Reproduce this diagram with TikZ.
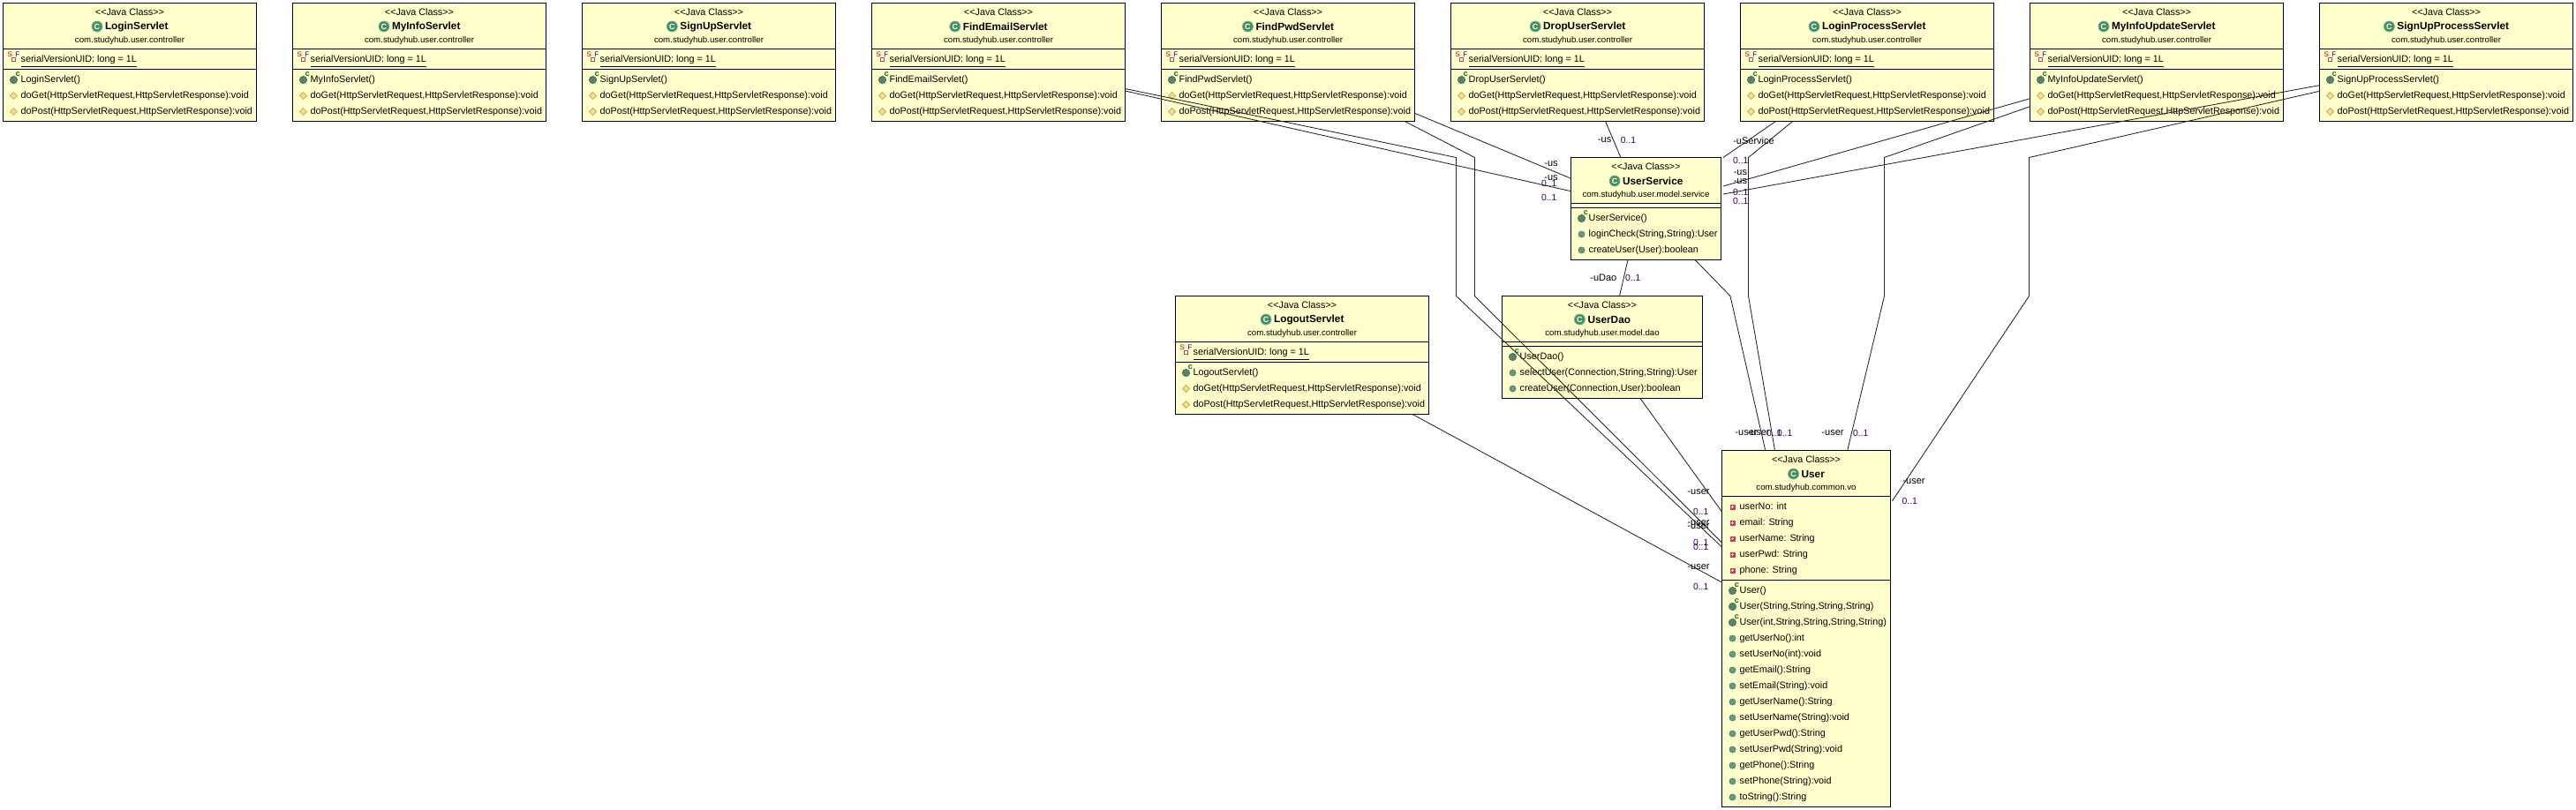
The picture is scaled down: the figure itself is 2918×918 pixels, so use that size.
\documentclass[tikz,border=0pt]{standalone}
\usepackage{fontspec}
\setmainfont{Liberation Sans}
\usetikzlibrary{positioning}

\definecolor{boxfill}{HTML}{FFFFCC}
\definecolor{classgreen}{HTML}{3F8F60}
\definecolor{pubgreen}{HTML}{5F9F7F}
\definecolor{protfill}{HTML}{F8DC90}
\definecolor{protline}{HTML}{C8A050}
\definecolor{privred}{HTML}{D83858}
\definecolor{multcol}{HTML}{3C0050}

\tikzset{
	classbox/.style={draw=black,line width=1pt,fill=boxfill,anchor=north west,inner sep=0pt,outer sep=0pt},
	sepline/.style={black,line width=1pt},
	assoc/.style={black!85,line width=0.85pt},
	stereotxt/.style={font=\fontsize{10.8}{13}\selectfont,inner sep=0pt},
	nametxt/.style={font=\fontsize{11.8}{14}\selectfont\bfseries,inner sep=0pt},
	pkgtxt/.style={font=\fontsize{9.7}{12}\selectfont,inner sep=0pt},
	rowtxt/.style={font=\fontsize{10.8}{13}\selectfont,inner sep=0pt,anchor=west,text height=8.5pt,text depth=3pt},
	classicon/.style={circle,fill=classgreen,draw=classgreen!70,line width=0.8pt,minimum size=12pt,inner sep=0pt,text=white,font=\fontsize{9}{9}\selectfont\bfseries},
	rolelab/.style={font=\fontsize{11}{12}\selectfont,inner sep=0pt,text=black},
	multlab/.style={font=\fontsize{10.4}{12}\selectfont,inner sep=0pt,text=multcol},
	pubmark/.pic={\fill[pubgreen,draw=pubgreen!75!black,line width=0.5pt] (0,0) circle (3.6pt);},
	ctormark/.pic={\fill[pubgreen!85!black,draw=pubgreen!60!black,line width=0.5pt] (0,0) circle (4.2pt);
		\node[font=\fontsize{9}{9}\selectfont\bfseries,text=green!45!black,inner sep=0pt] (cmark) at (4.8,-6.2) {c};},
	protmark/.pic={\fill[protfill,draw=protline,line width=0.7pt] (-4,0) -- (0,-4) -- (4,0) -- (0,4) -- cycle;},
	privmark/.pic={\fill[privred] (-3,-3) rectangle (3,3);
		\draw[white,line width=0.9pt] (-1.6,0) -- (1.6,0) (0,-1.6) -- (0,1.6);},
	staticmark/.pic={\fill[privred] (-2.6,-2.6) rectangle (2.6,2.6); \fill[white] (-1.1,-1.1) rectangle (1.1,1.1);
		\node[font=\fontsize{8}{8}\selectfont,text=red!70!black,inner sep=0pt] (smark) at (-4.3,-6) {S};
		\node[font=\fontsize{8}{8}\selectfont,text=blue!70!black,inner sep=0pt] (fmark) at (4.4,-6) {F};},
}

\begin{document}
\begin{tikzpicture}[x=1pt,y=-1pt]
	\useasboundingbox (0,0) rectangle (2918,918);
	\fill[white] (0,0) rectangle (2918,918);

	% servlet classes
	\foreach \nm/\lx/\ty in {LoginServlet/3.5/3.5,MyInfoServlet/331.5/3.5,SignUpServlet/659.5/3.5,FindEmailServlet/987.5/3.5,FindPwdServlet/1315.5/3.5,DropUserServlet/1643.5/3.5,LoginProcessServlet/1971.5/3.5,MyInfoUpdateServlet/2299.5/3.5,SignUpProcessServlet/2627.5/3.5,LogoutServlet/1331.5/335.5}
	{
		\node[classbox,minimum width=287pt,minimum height=134pt] (\nm) at (\lx,\ty) {};
		\node[stereotxt] (\nm-st) at ([yshift=-9.8pt]\nm.north) {<{}<Java Class>{}>};
		\node[nametxt] (\nm-title) at ([xshift=7.75pt,yshift=-26.5pt]\nm.north) {\nm};
		\node[classicon,left=2.5pt of \nm-title] (\nm-icon) {C};
		\node[pkgtxt] (\nm-pkg) at ([yshift=-42.5pt]\nm.north) {com.studyhub.user.controller};
		\draw[sepline] ([yshift=-52pt]\nm.north west) -- ([yshift=-52pt]\nm.north east);
		\draw[sepline] ([yshift=-75pt]\nm.north west) -- ([yshift=-75pt]\nm.north east);
		\node[rowtxt] (\nm-uid) at ([xshift=20pt,yshift=-64pt]\nm.north west) {serialVersionUID: long = 1L};
		\draw[black,line width=1pt] ([yshift=-2pt]\nm-uid.south west) -- ([yshift=-2pt]\nm-uid.south east);
		\pic at ([xshift=12pt,yshift=-64pt]\nm.north west) {staticmark};
		\node[rowtxt] (\nm-ctor) at ([xshift=20pt,yshift=-87pt]\nm.north west) {\nm()};
		\pic at ([xshift=12pt,yshift=-87pt]\nm.north west) {ctormark};
		\node[rowtxt] (\nm-get) at ([xshift=20pt,yshift=-105pt]\nm.north west) {doGet(HttpServletRequest,HttpServletResponse):void};
		\pic at ([xshift=12pt,yshift=-105pt]\nm.north west) {protmark};
		\node[rowtxt] (\nm-post) at ([xshift=20pt,yshift=-123pt]\nm.north west) {doPost(HttpServletRequest,HttpServletResponse):void};
		\pic at ([xshift=12pt,yshift=-123pt]\nm.north west) {protmark};
	}

	% service, dao and vo classes
	\foreach \nm/\lx/\ty/\bw/\bh/\sy/\pk in {UserService/1779.5/178.5/170/116/57/com.studyhub.user.model.service,UserDao/1701.5/335.5/227/116/57/com.studyhub.user.model.dao,User/1950.5/510.5/191/404/147/com.studyhub.common.vo}
	{
		\node[classbox,minimum width=\bw pt,minimum height=\bh pt] (\nm) at (\lx,\ty) {};
		\node[stereotxt] (\nm-st) at ([yshift=-9.8pt]\nm.north) {<{}<Java Class>{}>};
		\node[nametxt] (\nm-title) at ([xshift=7.75pt,yshift=-26.5pt]\nm.north) {\nm};
		\node[classicon,left=2.5pt of \nm-title] (\nm-icon) {C};
		\node[pkgtxt] (\nm-pkg) at ([yshift=-42.5pt]\nm.north) {\pk};
		\draw[sepline] ([yshift=-52pt]\nm.north west) -- ([yshift=-52pt]\nm.north east);
		\draw[sepline] ([yshift=-\sy pt]\nm.north west) -- ([yshift=-\sy pt]\nm.north east);
	}

	% members
	\foreach \cls/\ky/\mk/\txt [count=\i] in {
		UserService/69/ctormark/UserService(),
		UserService/87/pubmark/{loginCheck(String,String):User},
		UserService/105/pubmark/createUser(User):boolean,
		UserDao/69/ctormark/UserDao(),
		UserDao/87/pubmark/{selectUser(Connection,String,String):User},
		UserDao/105/pubmark/{createUser(Connection,User):boolean},
		User/64/privmark/userNo: int,
		User/82/privmark/email: String,
		User/100/privmark/userName: String,
		User/118/privmark/userPwd: String,
		User/136/privmark/phone: String,
		User/159/ctormark/User(),
		User/177/ctormark/{User(String,String,String,String)},
		User/195/ctormark/{User(int,String,String,String,String)},
		User/213/pubmark/getUserNo():int,
		User/231/pubmark/setUserNo(int):void,
		User/249/pubmark/getEmail():String,
		User/267/pubmark/setEmail(String):void,
		User/285/pubmark/getUserName():String,
		User/303/pubmark/setUserName(String):void,
		User/321/pubmark/getUserPwd():String,
		User/339/pubmark/setUserPwd(String):void,
		User/357/pubmark/getPhone():String,
		User/375/pubmark/setPhone(String):void,
		User/393/pubmark/toString():String}
	{
		\node[rowtxt] (member\i) at ([xshift=20pt,yshift=-\ky pt]\cls.north west) {\txt};
		\pic at ([xshift=12pt,yshift=-\ky pt]\cls.north west) {\mk};
	}

	% bends of the long connectors
	\coordinate (fe1) at (1649.5,178.5);
	\coordinate (fe2) at (1649.5,335.5);
	\coordinate (fp1) at (1670.5,178.5);
	\coordinate (fp2) at (1670.5,335.5);
	\coordinate (lp1) at (1980.5,178.5);
	\coordinate (lp2) at (1980.5,335.5);
	\coordinate (mi1) at (2134.5,178.5);
	\coordinate (mi2) at (2134.5,335.5);
	\coordinate (sp1) at (2298.5,178.5);
	\coordinate (sp2) at (2298.5,335.5);
	\coordinate (us1) at (1960,335.5);

	\draw[assoc] ([yshift=-97pt]FindEmailServlet.north east) -- (fe1) -- (fe2) -- ([yshift=-109.5pt]User.north west);
	\draw[assoc] ([yshift=-99.5pt]FindEmailServlet.north east) -- ([yshift=-38.2pt]UserService.north west);
	\draw[assoc] ([yshift=-124.8pt]FindPwdServlet.north east) -- ([yshift=-23.8pt]UserService.north west);
	\draw[assoc] ([xshift=-11.3pt]FindPwdServlet.south east) -- (fp1) -- (fp2) -- ([yshift=-104.5pt]User.north west);
	\draw[assoc] ([xshift=175pt]DropUserServlet.south west) -- ([xshift=56.5pt]UserService.north west);
	\draw[assoc] ([xshift=40pt]LoginProcessServlet.south west) -- ([xshift=2.5pt]UserService.north east);
	\draw[assoc] ([xshift=59.2pt]LoginProcessServlet.south west) -- (lp1) -- (lp2) -- ([xshift=60pt]User.north west);
	\draw[assoc] ([yshift=-108.2pt]MyInfoUpdateServlet.north west) -- ([xshift=2.5pt,yshift=-32.5pt]UserService.north east);
	\draw[assoc] ([yshift=-117.2pt]MyInfoUpdateServlet.north west) -- (mi1) -- (mi2) -- ([xshift=142.2pt]User.north west);
	\draw[assoc] ([yshift=-93.2pt]SignUpProcessServlet.north west) -- ([xshift=2.5pt,yshift=-41.5pt]UserService.north east);
	\draw[assoc] ([yshift=-99.8pt]SignUpProcessServlet.north west) -- (sp1) -- (sp2) -- ([xshift=2pt,yshift=-57.2pt]User.north east);
	\draw[assoc] ([xshift=64.5pt]UserService.south west) -- ([xshift=133pt]UserDao.north west);
	\draw[assoc] ([xshift=140.5pt]UserService.south west) -- (us1) -- ([xshift=49.2pt]User.north west);
	\draw[assoc] ([xshift=156.5pt]UserDao.south west) -- ([yshift=-69.5pt]User.north west);
	\draw[assoc] ([xshift=268.5pt]LogoutServlet.south west) -- ([yshift=-149.5pt]User.north west);

	% role labels
	\foreach \lab/\lx/\ly [count=\i] in {-us/1817.6/158.7,-us/1757/185.3,-us/1757/201.7,-uService/1986.5/159.3,-us/1971.4/195.3,-us/1971.4/205.7,-uDao/1816.3/314.3,-user/1978/490.3,-user/1992/490.3,-user/2076/490.3,-user/2168/545.3,-user/1924/557.3,-user/1924/592.3,-user/1924/597,-user/1924/642.3}
		\node[rolelab] (role\i) at (\lx,\ly) {\lab};

	% multiplicities
	\foreach \lx/\ly [count=\i] in {1844.5/159,1754.7/208.3,1754.7/224.3,1971.8/182.3,1971.8/218,1971.8/228.3,1849.8/315,2009.7/491,2021.7/491,2107.7/491,2163.3/568,1926.7/580,1926.7/614.7,1926.7/620.3,1926.7/665}
		\node[multlab] (mult\i) at (\lx,\ly) {0..1};
\end{tikzpicture}
\end{document}
